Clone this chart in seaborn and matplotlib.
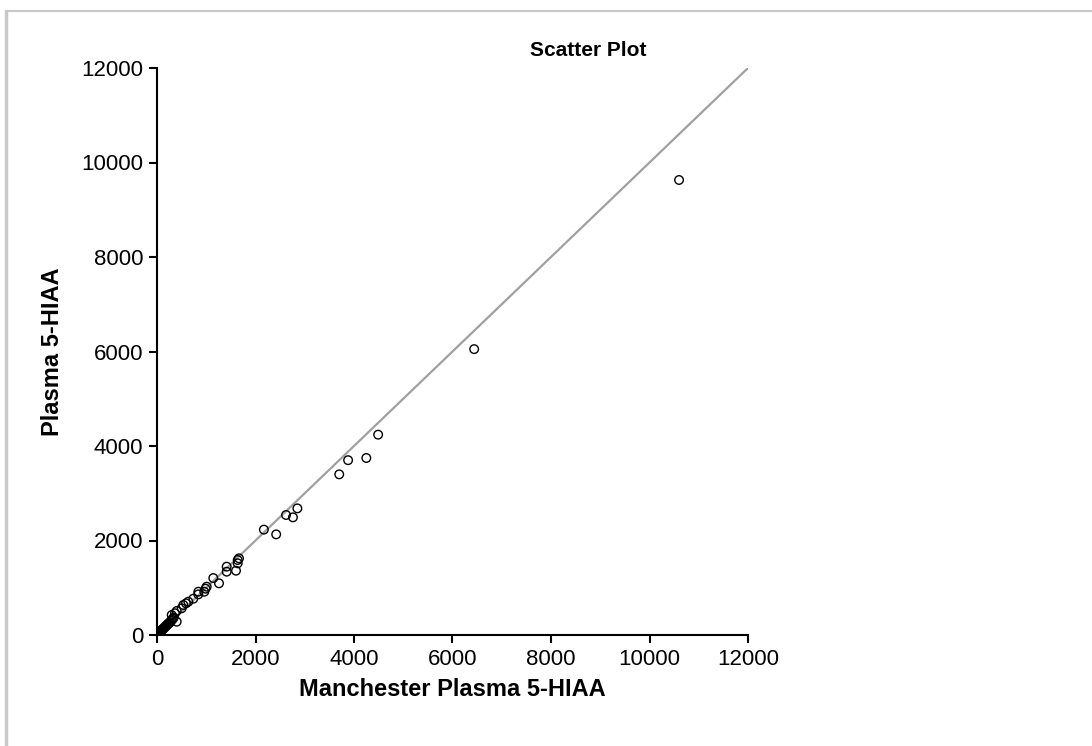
import matplotlib
matplotlib.use("Agg")
import matplotlib.pyplot as plt
import seaborn as sns
import pandas as pd
from matplotlib.lines import Line2D

manchester = [10600, 6440, 4490, 3880, 4250, 3700, 2850, 2620, 2760, 2170, 2420,
              1665, 1639, 1639, 1604, 1415, 1415, 1143, 1259, 1009, 985, 960,
              839, 839, 737, 636, 589, 535, 501, 400, 365, 298, 400,
              340, 320, 305, 285, 265, 245, 228, 212, 196, 182, 168, 154, 142,
              130, 120, 110, 100, 90, 80, 70, 60, 50, 40, 30, 20, 12]
plasma = [9630, 6050, 4240, 3700, 3746, 3400, 2680, 2540, 2490, 2230, 2130,
          1623, 1587, 1517, 1361, 1446, 1340, 1205, 1094, 1022, 980, 916,
          916, 860, 768, 705, 670, 635, 565, 508, 460, 423, 282,
          370, 345, 320, 300, 275, 250, 240, 220, 205, 190, 175, 160, 150,
          135, 125, 115, 105, 95, 85, 72, 62, 52, 42, 32, 22, 14]
line_x = [0, 12000]
line_y = [0, 12000]
ticks = [0, 2000, 4000, 6000, 8000, 10000, 12000]

sns.set_theme(style="white")
plt.rcParams['font.family'] = ['Liberation Sans', 'DejaVu Sans']
plt.rcParams['text.color'] = 'black'
plt.rcParams['axes.labelcolor'] = 'black'

fig = plt.figure(figsize=(10.92, 7.46), dpi=100)
ax = fig.add_axes([157/1092, 1-635/746, (748-157)/1092, (635-68)/746])

df = pd.DataFrame({"x": manchester, "y": plasma})
ax.plot(line_x, line_y, color="#a0a0a0", lw=1.6, zorder=1)
sns.scatterplot(data=df, x="x", y="y", ax=ax, marker="o", s=38,
                facecolor="none", edgecolor="black", linewidth=1.0, zorder=2)

ax.set_xlim(0, 12000)
ax.set_ylim(0, 12000)
ax.set_xticks(ticks)
ax.set_yticks(ticks)
ax.set_xticklabels([str(t) for t in ticks])
ax.set_yticklabels([str(t) for t in ticks])
for s in ["top", "right"]:
    ax.spines[s].set_visible(False)
for s in ["left", "bottom"]:
    ax.spines[s].set_color("black")
    ax.spines[s].set_linewidth(1.5)
ax.tick_params(axis="both", direction="out", length=6, width=1.5, color="black",
               labelsize=16, labelcolor="black", bottom=True, left=True, pad=4)
ax.set_xlabel("Manchester Plasma 5-HIAA", fontsize=17, fontweight="bold", labelpad=6)
ax.set_ylabel("Plasma 5-HIAA", fontsize=17, fontweight="bold", labelpad=12)

fig.text(588/1092, 1-50/746, "Scatter Plot", ha="center", va="center",
         fontsize=15, fontweight="bold")

# figure border (top and left visible)
fig.add_artist(Line2D([6/1092, 1.0], [1-10.5/746, 1-10.5/746], transform=fig.transFigure,
                      color="#c8c8c8", lw=1.5))
fig.add_artist(Line2D([6/1092, 6/1092], [0, 1-10.5/746], transform=fig.transFigure,
                      color="#c8c8c8", lw=2.5))

fig.savefig("out.png", dpi=100, facecolor="white")
